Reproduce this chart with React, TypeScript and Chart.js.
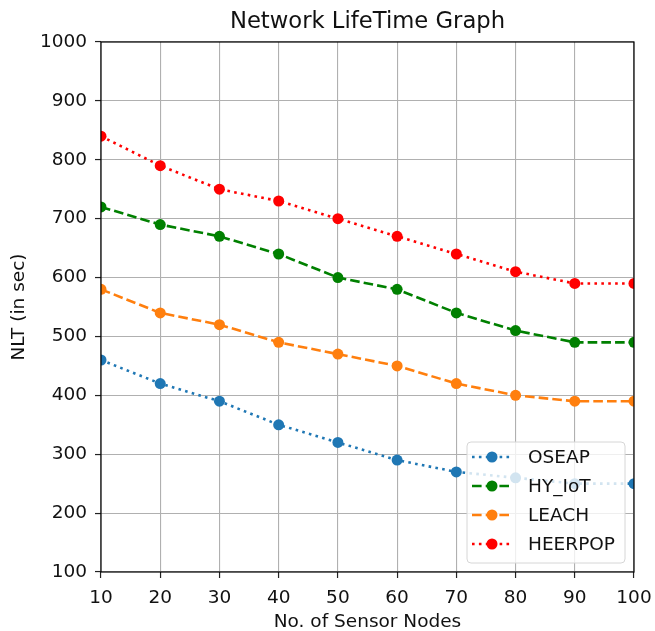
import React, { useEffect, useRef } from "react";
import { Chart, registerables } from "chart.js";

Chart.register(...registerables);

const nodes = [10, 20, 30, 40, 50, 60, 70, 80, 90, 100];
const oseap = [460, 420, 390, 350, 320, 290, 270, 260, 250, 250];
const hyIot = [720, 690, 670, 640, 600, 580, 540, 510, 490, 490];
const leach = [580, 540, 520, 490, 470, 450, 420, 400, 390, 390];
const heerpop = [840, 790, 750, 730, 700, 670, 640, 610, 590, 590];

const seriesNames = ["OSEAP", "HY_IoT", "LEACH", "HEERPOP"];
const seriesValues = [oseap, hyIot, leach, heerpop];
const seriesColors = ["#1f77b4", "#008000", "#ff7f0e", "#ff0000"];
const DOT = [2.6, 4.3];
const DASH = [9.6, 4.1];
const seriesDash = [DOT, DASH, DASH, DOT];

const titleText = "Network LifeTime Graph";
const xTitle = "No. of Sensor Nodes";
const yTitle = "NLT (in sec)";

const FONT = "'DejaVu Sans', sans-serif";
const FS = 18.5;

const framePlugin = {
  id: "frame",
  afterDatasetsDraw(chart: any) {
    const { ctx, chartArea: a } = chart;
    ctx.save();
    ctx.strokeStyle = "#000";
    ctx.lineWidth = 1.2;
    ctx.setLineDash([]);
    ctx.strokeRect(a.left, a.top, a.right - a.left, a.bottom - a.top);
    ctx.restore();
  },
  afterDraw(chart: any) {
    const { ctx, chartArea: a } = chart;
    ctx.save();
    // title
    ctx.fillStyle = "#111";
    ctx.font = `22.7px ${FONT}`;
    ctx.textAlign = "center";
    ctx.textBaseline = "middle";
    ctx.fillText(titleText, (a.left + a.right) / 2, 22);

    // legend
    const bx = a.right - 167, by = a.bottom - 130, bw = 158, bh = 121;
    const r = 4;
    ctx.beginPath();
    ctx.moveTo(bx + r, by);
    ctx.lineTo(bx + bw - r, by);
    ctx.quadraticCurveTo(bx + bw, by, bx + bw, by + r);
    ctx.lineTo(bx + bw, by + bh - r);
    ctx.quadraticCurveTo(bx + bw, by + bh, bx + bw - r, by + bh);
    ctx.lineTo(bx + r, by + bh);
    ctx.quadraticCurveTo(bx, by + bh, bx, by + bh - r);
    ctx.lineTo(bx, by + r);
    ctx.quadraticCurveTo(bx, by, bx + r, by);
    ctx.closePath();
    ctx.fillStyle = "rgba(255,255,255,0.8)";
    ctx.fill();
    ctx.strokeStyle = "#d6d6d6";
    ctx.lineWidth = 1;
    ctx.stroke();

    ctx.font = `${FS}px ${FONT}`;
    ctx.textAlign = "left";
    ctx.textBaseline = "middle";
    seriesNames.forEach((name, i) => {
      const cy = by + 15 + i * 29;
      ctx.strokeStyle = seriesColors[i];
      ctx.lineWidth = 2.6;
      ctx.setLineDash(seriesDash[i]);
      ctx.beginPath();
      ctx.moveTo(bx + 5, cy);
      ctx.lineTo(bx + 44, cy);
      ctx.stroke();
      ctx.setLineDash([]);
      ctx.fillStyle = seriesColors[i];
      ctx.beginPath();
      ctx.arc(bx + 25, cy, 5.5, 0, Math.PI * 2);
      ctx.fill();
      ctx.fillStyle = "#111";
      ctx.fillText(name, bx + 61, cy + 1);
    });
    ctx.restore();
  },
};

export default function App() {
  const ref = useRef<HTMLCanvasElement | null>(null);
  useEffect(() => {
    document.body.style.margin = "0";
    const canvas = ref.current;
    if (!canvas) return;
    const chart = new Chart(canvas, {
      type: "line",
      data: {
        datasets: seriesNames.map((name, i) => ({
          label: name,
          data: nodes.map((x, j) => ({ x, y: seriesValues[i][j] })),
          borderColor: seriesColors[i],
          backgroundColor: seriesColors[i],
          borderWidth: 2.6,
          borderDash: seriesDash[i],
          borderCapStyle: "butt",
          pointRadius: 5.5,
          pointBorderWidth: 0,
          pointBackgroundColor: seriesColors[i],
          tension: 0,
          fill: false,
          clip: 0,
          order: seriesNames.length - i,
        })),
      },
      options: {
        animation: false,
        responsive: false,
        layout: { padding: { top: 42, right: 21, left: 0, bottom: 0 } },
        plugins: {
          legend: { display: false },
          title: { display: false },
          tooltip: { enabled: false },
        },
        scales: {
          x: {
            type: "linear",
            min: 10,
            max: 100,
            afterFit: (s: any) => {
              s.height = 59;
              s.paddingLeft = 0;
              s.paddingRight = 0;
            },
            ticks: {
              stepSize: 10,
              color: "#111",
              font: { family: FONT, size: FS },
              padding: 9,
              maxRotation: 0,
              callback: (v: any) => String(v),
            },
            grid: {
              color: "#b0b0b0",
              lineWidth: 1.1,
              drawTicks: true,
              tickLength: 6,
              tickColor: "#222",
              tickWidth: 1.2,
            },
            border: { display: false },
            title: {
              display: true,
              text: xTitle,
              color: "#111",
              font: { family: FONT, size: FS, lineHeight: 1 },
              padding: { top: 0, bottom: 0 },
            },
          },
          y: {
            type: "linear",
            min: 100,
            max: 1000,
            afterFit: (s: any) => {
              s.width = 101;
              s.paddingTop = 0;
              s.paddingBottom = 0;
            },
            ticks: {
              stepSize: 100,
              color: "#111",
              font: { family: FONT, size: FS },
              padding: 8,
              callback: (v: any) => String(v),
            },
            grid: {
              color: "#b0b0b0",
              lineWidth: 1.1,
              drawTicks: true,
              tickLength: 6,
              tickColor: "#222",
              tickWidth: 1.2,
            },
            border: { display: false },
            title: {
              display: true,
              text: yTitle,
              color: "#111",
              font: { family: FONT, size: FS, lineHeight: 1 },
              padding: { top: 10, bottom: 0 },
            },
          },
        },
      },
      plugins: [framePlugin],
    } as any);
    return () => chart.destroy();
  }, []);
  return <canvas ref={ref} width={655} height={631} style={{ display: "block" }} />;
}
